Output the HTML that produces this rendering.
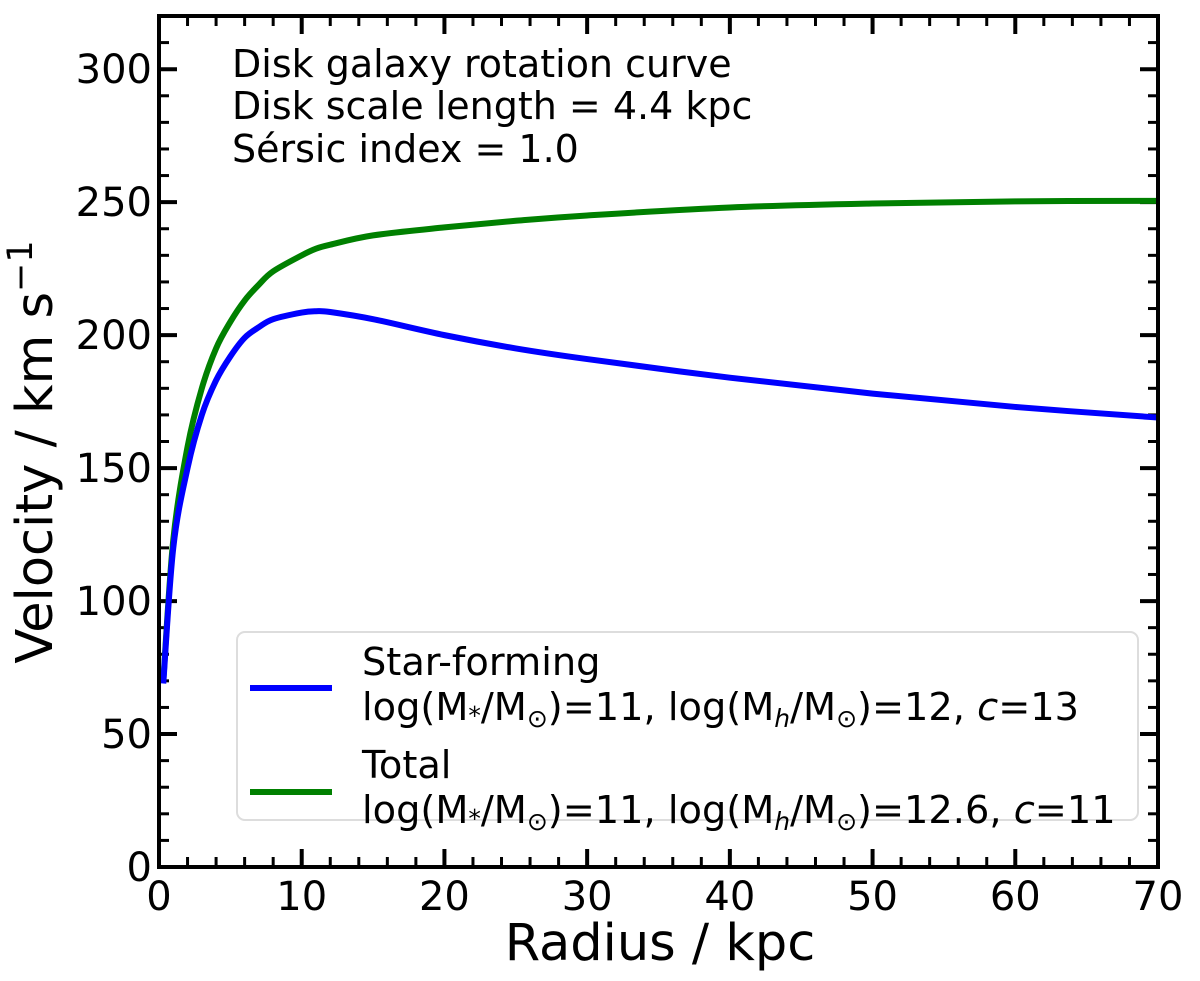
<!DOCTYPE html>
<html><head><meta charset="utf-8"><style>
body{margin:0;background:#fff}
svg text{font-family:"DejaVu Sans","Liberation Sans",sans-serif;fill:#000}
</style></head><body>
<svg id="chart" width="1200" height="976">
<g id="ticks"></g>
<g id="series"></g>
<rect x="159" y="16" width="999" height="851" fill="none" stroke="#000" stroke-width="4"/>
<g font-size="38">
<text x="232" y="77">Disk galaxy rotation curve</text>
<text x="232" y="119">Disk scale length = 4.4 kpc</text>
<text x="232" y="162">Sérsic index = 1.0</text>
</g>
<g>
<rect x="237" y="632" width="901" height="188" rx="8" fill="#fff" stroke="#ddd" stroke-width="2"/>
<line x1="250" y1="688" x2="332" y2="688" stroke="#0000ff" stroke-width="6"/>
<line x1="250" y1="792" x2="332" y2="792" stroke="#008000" stroke-width="6"/>
<g font-size="38.3">
<text x="362" y="675">Star-forming</text>
<text x="362" y="720">log(M<tspan font-size="25" dy="4">*</tspan><tspan dy="-4">/M</tspan><tspan font-size="25" dy="7">⊙</tspan><tspan dy="-7">)=11, log(M</tspan><tspan font-size="25" dy="7" font-style="italic">h</tspan><tspan dy="-7">/M</tspan><tspan font-size="25" dy="7">⊙</tspan><tspan dy="-7">)=12, </tspan><tspan font-style="italic">c</tspan>=13</text>
<text x="362" y="778">Total</text>
<text x="362" y="823">log(M<tspan font-size="25" dy="4">*</tspan><tspan dy="-4">/M</tspan><tspan font-size="25" dy="7">⊙</tspan><tspan dy="-7">)=11, log(M</tspan><tspan font-size="25" dy="7" font-style="italic">h</tspan><tspan dy="-7">/M</tspan><tspan font-size="25" dy="7">⊙</tspan><tspan dy="-7">)=12.6, </tspan><tspan font-style="italic">c</tspan>=11</text>
</g>
</g>
<text x="660" y="960" font-size="51" text-anchor="middle">Radius / kpc</text>
<text transform="translate(52,452) rotate(-90)" font-size="51" text-anchor="middle">Velocity / km s<tspan font-size="35" dy="-20">−1</tspan></text>
</svg>
<script>
const xTicks=[0,10,20,30,40,50,60,70];
const yTicks=[0,50,100,150,200,250,300];
const radius=[0.3,1,2,3,4,5,6,7,8,10,11,12,15,20,25,30,40,50,60,70];
const vStar=[69,120,150,170,183,192,199,203,206,208.5,209,208.7,206,200,195,191,184,178,173,169];
const vTotal=[70,123,158,180,195,205,213,219,224,230,232.5,234,237.5,240.5,243,245,248,249.5,250.3,250.5];
const X=v=>159+v*999/70, Y=v=>867-v*851/320;
const NS="http://www.w3.org/2000/svg";
const tg=document.getElementById('ticks');
function ln(x1,y1,x2,y2,w){const l=document.createElementNS(NS,'line');l.setAttribute('x1',x1);l.setAttribute('y1',y1);l.setAttribute('x2',x2);l.setAttribute('y2',y2);l.setAttribute('stroke','#000');l.setAttribute('stroke-width',w);


tg.appendChild(l);}
for(let v=0;v<=70;v+=2){const maj=v%10===0,L=maj?18:10,w=maj?4:3;ln(X(v),867,X(v),867-L,w);ln(X(v),16,X(v),16+L,w);}
for(let v=0;v<=320;v+=10){const maj=v%50===0,L=maj?18:10,w=maj?4:3;ln(159,Y(v),159+L,Y(v),w);ln(1158,Y(v),1158-L,Y(v),w);}
xTicks.forEach(v=>{const t=document.createElementNS(NS,'text');t.setAttribute('x',X(v));t.setAttribute('y',910);t.setAttribute('font-size','40');t.setAttribute('text-anchor','middle');t.textContent=v;


tg.appendChild(t);});
yTicks.forEach(v=>{const t=document.createElementNS(NS,'text');t.setAttribute('x',152);t.setAttribute('y',Y(v)+14);t.setAttribute('font-size','40');t.setAttribute('text-anchor','end');t.textContent=v;


tg.appendChild(t);});
function path(xs,ys){const p=xs.map((x,i)=>[X(x),Y(ys[i])]);let d='M'+p[0][0]+','+p[0][1];
for(let i=0;i<p.length-1;i++){const p0=p[i-1]||p[i],p1=p[i],p2=p[i+1],p3=p[i+2]||p2;
d+=' C'+(p1[0]+(p2[0]-p0[0])/6)+','+(p1[1]+(p2[1]-p0[1])/6)+' '+(p2[0]-(p3[0]-p1[0])/6)+','+(p2[1]-(p3[1]-p1[1])/6)+' '+p2[0]+','+p2[1];}return d;}
const sg=document.getElementById('series');
[[vTotal,'#008000','total-curve'],[vStar,'#0000ff','star-forming-curve']].forEach(([ys,c,n])=>{const p=document.createElementNS(NS,'path');p.setAttribute('d',path(radius,ys));p.setAttribute('fill','none');p.setAttribute('stroke',c);p.setAttribute('stroke-width','6');


sg.appendChild(p);});
</script>
</body></html>
